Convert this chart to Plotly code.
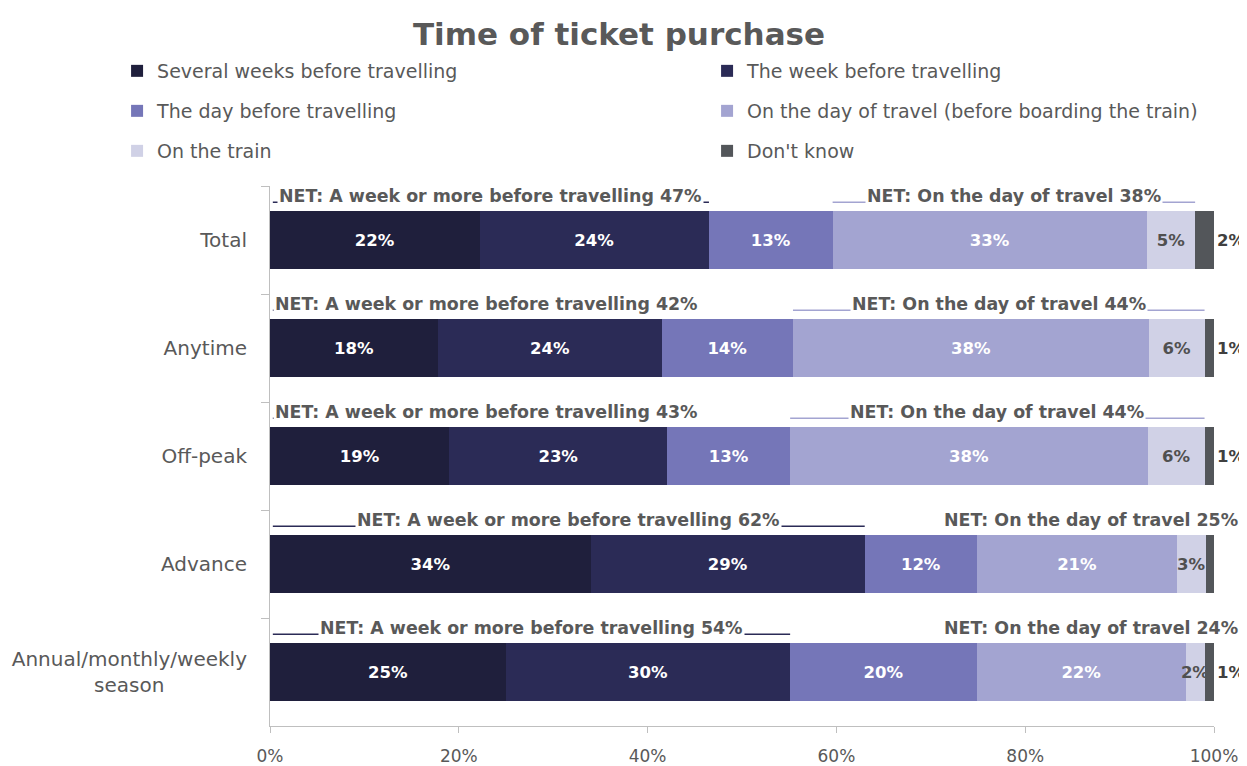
import plotly.graph_objects as go

categories = ["Total", "Anytime", "Off-peak", "Advance",
              "Annual/monthly/weekly<br>season" + "\u00a0" * 13]
series_names = ["Several weeks before travelling", "The week before travelling",
                "The day before travelling", "On the day of travel (before boarding the train)",
                "On the train", "Don't know"]
several_weeks = [22.2, 17.8, 19.0, 34.0, 25.0]
week_before = [24.3, 23.7, 23.1, 29.0, 30.1]
day_before = [13.1, 13.9, 13.0, 11.9, 19.8]
on_day = [33.3, 37.7, 37.9, 21.2, 22.1]
on_train = [5.1, 5.9, 6.0, 3.0, 2.0]
dont_know = [2.0, 1.0, 1.0, 1.0, 1.0]
net_week = [47, 42, 43, 62, 54]
net_day = [38, 44, 44, 25, 24]
x_ticks = [0, 20, 40, 60, 80, 100]

colors = ["#1f1f3c", "#2b2b56", "#7576b8", "#a3a4d1", "#d0d1e6", "#53565a"]
text_colors = ["white", "white", "white", "white", "#505050", "#404040"]
legends = ["legend", "legend", "legend2", "legend2", "legend3", "legend3"]
all_series = [several_weeks, week_before, day_before, on_day, on_train, dont_know]
FONT = "DejaVu Sans"

fig = go.Figure()
for i, (name, vals) in enumerate(zip(series_names, all_series)):
    fig.add_trace(go.Bar(
        y=categories, x=vals, name=name, orientation="h",
        marker=dict(color=colors[i], line=dict(width=0)),
        texttemplate="%{x:.0f}%",
        textposition="outside" if i == 5 else "inside",
        insidetextanchor="middle", textangle=0, constraintext="none",
        textfont=dict(family=FONT, size=16.5, color=text_colors[i], weight="bold"),
        cliponaxis=False, legend=legends[i], hoverinfo="skip",
    ))

shapes = []
annotations = []
half_w = 22.6
for idx in range(len(categories)):
    w_end = several_weeks[idx] + week_before[idx]
    d_start = w_end + day_before[idx]
    d_end = d_start + on_day[idx] + on_train[idx]
    for (x0, x1, val, col, label) in [
        (0.3, w_end, net_week[idx], "#2b2b56", "NET: A week or more before travelling"),
        (d_start, d_end, net_day[idx], "#a3a4d1", "NET: On the day of travel"),
    ]:
        shapes.append(dict(type="line", xref="x", yref="y", x0=x0, x1=x1,
                           y0=idx - 0.35, y1=idx - 0.35,
                           line=dict(color=col, width=1.5)))
        mid = (x0 + x1) / 2
        if label.startswith("NET: A week"):
            mid = max(mid, half_w + 0.3)
        annotations.append(dict(
            x=mid, y=idx - 0.405, xref="x", yref="y", text=f"{label} {val}%",
            showarrow=False, xanchor="center", yanchor="middle",
            bgcolor="white", borderpad=1,
            font=dict(family=FONT, size=17.4, color="#595959", weight="bold"),
        ))

leg_common = dict(orientation="h", entrywidth=545, entrywidthmode="pixels",
                  xanchor="left", yanchor="middle", x=-0.162, itemwidth=30,
                  font=dict(family=FONT, size=19, color="#595959"),
                  bgcolor="rgba(0,0,0,0)", traceorder="normal")

# page body has an 8px margin; figure coordinates are offset accordingly
fig.update_layout(
    width=1247, height=766,
    barmode="stack", bargap=0.47,
    paper_bgcolor="white", plot_bgcolor="white",
    margin=dict(l=262, r=41, t=178, b=48, autoexpand=False),
    title=dict(text="Time of ticket purchase", x=0.490, xanchor="center",
               y=0.966, yanchor="middle", yref="container",
               font=dict(family=FONT, size=31, color="#595959", weight="bold")),
    legend=dict(**leg_common, y=(726 - 71) / 540),
    legend2=dict(**leg_common, y=(726 - 111) / 540),
    legend3=dict(**leg_common, y=(726 - 151) / 540),
    xaxis=dict(range=[0, 100], tickvals=x_ticks, ticktext=[f"{v}%" for v in x_ticks],
               showgrid=False, zeroline=False, showline=True, linecolor="#bfbfbf",
               ticks="outside", ticklen=6, tickcolor="#bfbfbf", automargin=False,
               ticklabelstandoff=9,
               tickfont=dict(family=FONT, size=17, color="#595959")),
    yaxis=dict(range=[4.5, -0.5], showgrid=False, zeroline=False, showline=True,
               linecolor="#bfbfbf", ticks="outside", ticklen=8, tickcolor="#bfbfbf",
               tickson="boundaries", ticklabelstandoff=18, automargin=False,
               tickfont=dict(family=FONT, size=20, color="#595959")),
    shapes=shapes, annotations=annotations,
    showlegend=True,
)

fig.write_html("out.html")
